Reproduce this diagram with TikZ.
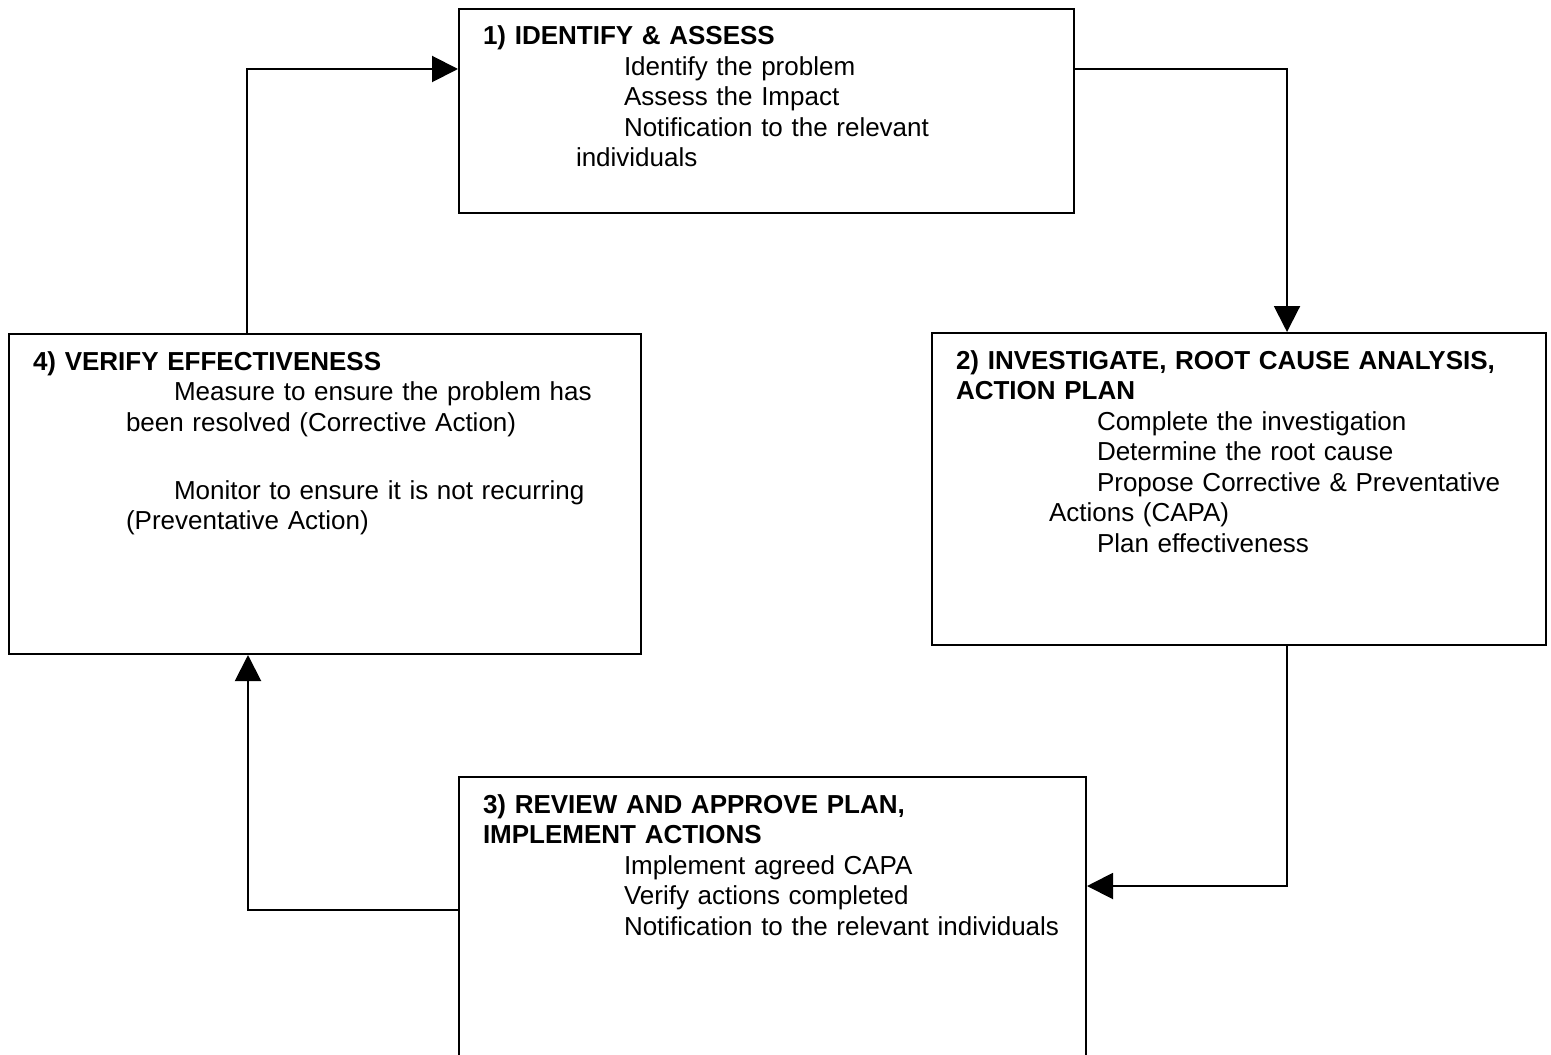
\documentclass[tikz,border=0pt]{standalone}
\usepackage{fontspec}
\setmainfont{Liberation Sans}
\usetikzlibrary{arrows.meta,positioning,calc}

\newcommand{\stepin}{\hspace*{70.5pt}}
\newcommand{\wrapin}{\hspace*{46.5pt}}

\begin{document}
\begin{tikzpicture}[
  x=0.5pt, y=-0.5pt,
  >={Triangle[length=13pt,width=13pt]},
  every node/.style={font=\fontsize{13pt}{15.25pt}\selectfont},
  stage/.style={draw, line width=1pt, anchor=north west, align=left,
    inner xsep=12pt, inner ysep=8.5pt, text height=9.5pt},
  flow/.style={->, line width=1pt},
]
\useasboundingbox (0,0) rectangle (1551,1054);

% Stages
\node[stage, text width=283.5pt, text depth=75.5pt] (identify) at (458,8) {%
  \textbf{1) IDENTIFY \& ASSESS}\\
  \stepin Identify the problem\\
  \stepin Assess the Impact\\
  \stepin Notification to the relevant\\
  \wrapin individuals};
\node[stage, text width=283pt, text depth=129.5pt] (investigate) at (931,332) {%
  \textbf{2) INVESTIGATE, ROOT CAUSE ANALYSIS,}\\
  \textbf{ACTION PLAN}\\
  \stepin Complete the investigation\\
  \stepin Determine the root cause\\
  \stepin Propose Corrective \& Preventative\\
  \wrapin Actions (CAPA)\\
  \stepin Plan effectiveness};
\node[stage, text width=289.5pt, text depth=118.5pt] (review) at (458,776) {%
  \textbf{3) REVIEW AND APPROVE PLAN,}\\
  \textbf{IMPLEMENT ACTIONS}\\
  \stepin Implement agreed CAPA\\
  \stepin Verify actions completed\\
  \stepin Notification to the relevant individuals};
\node[stage, text width=292pt, text depth=133.5pt] (verify) at (8,333) {%
  \textbf{4) VERIFY EFFECTIVENESS}\\
  \stepin Measure to ensure the problem has\\
  \wrapin been resolved (Corrective Action)\\[18.75pt]
  \stepin Monitor to ensure it is not recurring\\
  \wrapin (Preventative Action)};

% Flow
\draw[flow] ([yshift=21pt]identify.east) -| ([xshift=24pt]investigate.north);
\draw[flow] ([xshift=24pt]investigate.south) |- ([yshift=18pt]review.east);
\draw[flow] ([yshift=6pt]review.west) -| ([xshift=-38.5pt]verify.south);
\draw[flow] ([xshift=-39pt]verify.north) |- ([yshift=21pt]identify.west);

\end{tikzpicture}
\end{document}
